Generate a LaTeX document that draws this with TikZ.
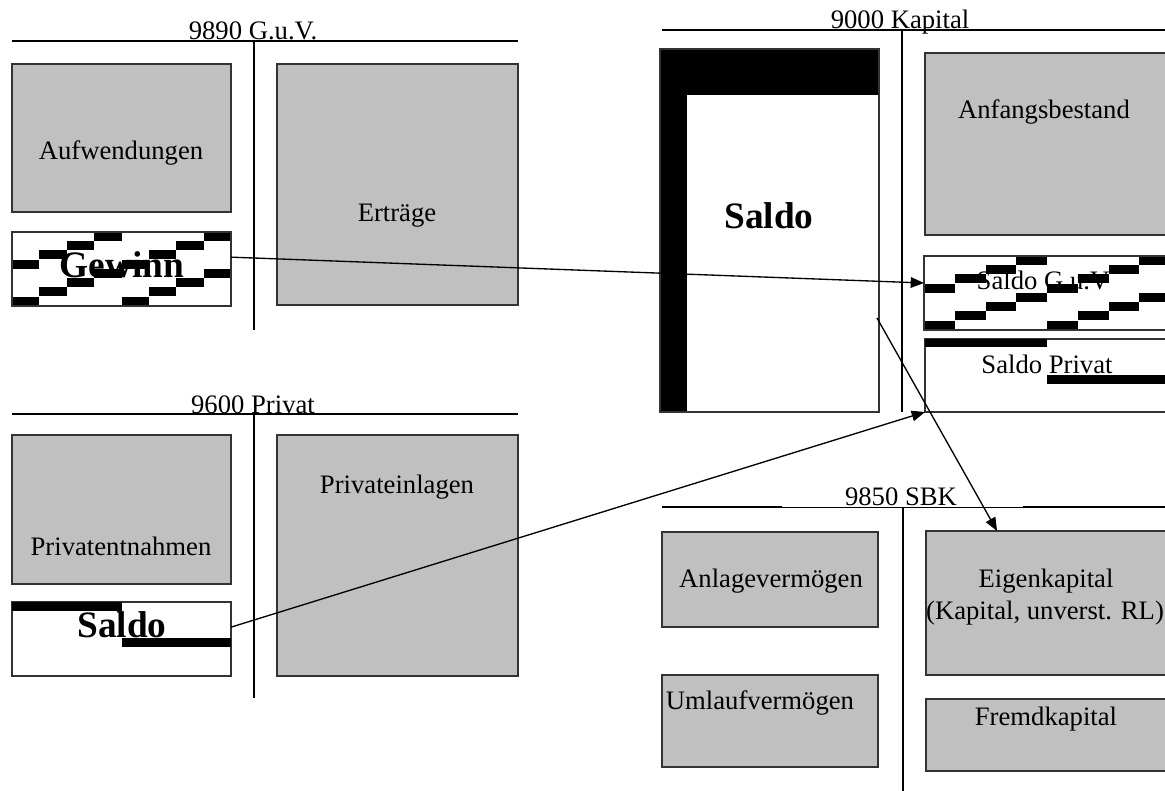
\documentclass[tikz,border=0pt]{standalone}
\usepackage{fontspec}
\setmainfont{Liberation Serif}
\usetikzlibrary{arrows.meta,calc,fit}
\definecolor{boxgray}{HTML}{C0C0C0}
\newcommand\stairpattern[5]{%
  \foreach \c in {0,...,#5}{%
    \pgfmathtruncatemacro\rr{mod(403-\c,4)}%
    \fill (#1+\c*#3, #2+\rr*#4) rectangle ++(#3, 0.97*#4);
    \fill (#1+\c*#3, #2+\rr*#4+4*#4) rectangle ++(#3, 0.97*#4);
  }}
\begin{document}
\begin{tikzpicture}[x=0.75pt,y=-0.75pt,
  box/.style={draw=black!80, line width=0.8pt, inner sep=0pt, outer sep=0pt},
  graybox/.style={box, fill=boxgray},
  whitebox/.style={box, fill=white},
  tline/.style={line width=1.2pt},
  lbl/.style={font=\fontsize{20}{24}\selectfont, anchor=base, inner sep=0pt},
  blbl/.style={font=\fontsize{28}{32}\selectfont\bfseries, anchor=base, inner sep=0pt},
  conn/.style={line width=1pt, -{Triangle[length=10pt,width=8pt]}}]
\useasboundingbox (0,0) rectangle (1165,791);
\clip (0,0) rectangle (1165,791);

% ---- T-account lines
\draw[tline] (12,41) -- (518,41);
\draw[tline] (254,41) -- (254,330);
\draw[tline] (12,414) -- (518,414);
\draw[tline] (254,414) -- (254,698);
\draw[tline] (662,30) -- (1170,30);
\draw[tline] (902,30) -- (902,412);
\draw[tline] (662,507) -- (782,507);
\draw[line width=0.5pt] (782,507) -- (1023,507);
\draw[tline] (1023,507) -- (1170,507);
\draw[tline] (903,507) -- (903,795);

% ---- boxes
\node[graybox, fit={(12,64)(231,212)}] (aufw) {};
\node[graybox, fit={(277,64)(518,305)}] (ertr) {};
\node[whitebox, fit={(12,232)(231,306)}] (gewinn) {};
\node[whitebox, fit={(660,49)(879,412)}] (bigsaldo) {};
\node[graybox, fit={(925,53)(1172,235)}] (anfang) {};
\node[whitebox, fit={(924,256)(1172,330)}] (sguv) {};
\node[whitebox, fit={(925,339)(1172,412)}] (spriv) {};
\node[graybox, fit={(12,435)(231,584)}] (entn) {};
\node[whitebox, fit={(12,602)(231,676)}] (psaldo) {};
\node[graybox, fit={(277,435)(518,676)}] (einl) {};
\node[graybox, fit={(662,532)(878,627)}] (anlage) {};
\node[graybox, fit={(662,675)(878,767)}] (umlauf) {};
\node[graybox, fit={(926,531)(1172,675)}] (eigen) {};
\node[graybox, fit={(926,699)(1172,771)}] (fremd) {};

% ---- patterns
\begin{scope}
  \clip (gewinn.north west) rectangle (gewinn.south east);
  \stairpattern{12}{232}{27.4}{9.25}{8}
\end{scope}
\draw[box] (gewinn.north west) rectangle (gewinn.south east);
\begin{scope}
  \clip (sguv.north west) rectangle (sguv.south east);
  \stairpattern{924}{256}{30.75}{9.25}{8}
\end{scope}
\draw[box] (sguv.north west) rectangle (sguv.south east);
\fill (spriv.north west) rectangle (1047,347.5);
\fill (1047,375) rectangle (1172,384);
\fill (psaldo.north west) rectangle (122,611);
\fill (122,638) rectangle (psaldo.east |- 0,647);
\fill (bigsaldo.north west) rectangle ($(bigsaldo.north east)+(0,46)$);
\fill (bigsaldo.north west) rectangle ($(bigsaldo.south west)+(27,0)$);
\draw[box] (bigsaldo.north west) rectangle (bigsaldo.south east);

% ---- texts
\node[lbl] (tguv) at (253,40) {9890 G.u.V.};
\node[lbl] (tpriv) at (253,414) {9600 Privat};
\node[lbl] (tkap) at (900,29) {9000 Kapital};
\node[lbl] (tsbk) at (901,506) {9850 SBK};
\node[lbl] (xaufw) at (121,160) {Aufwendungen};
\node[lbl] (xertr) at (397,222) {Erträge};
\node[blbl] (xgew) at (122,278) {Gewinn};
\node[blbl] (xsaldo) at (769,229) {Saldo};
\node[lbl] (xanf) at (1044,119) {Anfangsbestand};
\node[lbl] (xsguv) at (1043,290) {Saldo G.u.V};
\node[lbl] (xspriv) at (1047,374) {Saldo Privat};
\node[lbl] (xentn) at (121,556) {Privatentnahmen};
\node[lbl] (xeinl) at (397,494) {Privateinlagen};
\node[blbl] (xpsaldo) at (122,638) {Saldo};
\node[lbl] (xanl) at (771,588) {Anlagevermögen};
\node[lbl] (xuml) at (760,710) {Umlaufvermögen};
\node[lbl] (xeig1) at (1046,588) {Eigenkapital};
\node[lbl] (xeig2) at (1045,620) {(Kapital, unverst. RL)};
\node[lbl] (xfremd) at (1046,725) {Fremdkapital};

% ---- connectors
\draw[conn] ($(gewinn.north east)!0.34!(gewinn.south east)$) -- ($(sguv.north west)!0.365!(sguv.south west)$);
\draw[conn] ($(psaldo.north east)!0.34!(psaldo.south east)$) -- (spriv.south west);
\draw[conn] ($(bigsaldo.north east)!0.741!(bigsaldo.south east)+(-2,0)$) -- ($(eigen.north west)!0.289!(eigen.north east)$);
\end{tikzpicture}
\end{document}
